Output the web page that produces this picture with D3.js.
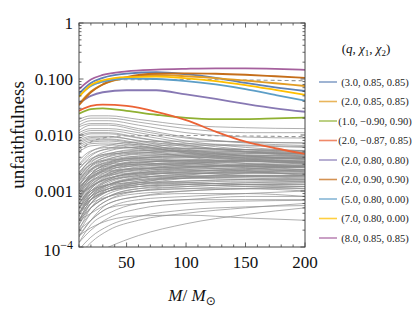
<!DOCTYPE html>
<html>
<head>
<meta charset="utf-8">
<script src="https://cdn.jsdelivr.net/npm/d3@7"></script>
<style>
  html, body { margin: 0; padding: 0; background: #fff; }
  svg { display: block; font-family: "Liberation Serif", serif; }
</style>
</head>
<body>
<div id="chart"></div>
<script>
const grayMasses = [10, 20, 35, 60, 100, 150, 200];

// gray curves that peak early and then fall
const grayUpper = [
  [0.019, 0.022, 0.022, 0.019, 0.015, 0.0135, 0.013],
  [0.017, 0.020, 0.020, 0.017, 0.013, 0.011, 0.011],
  [0.015, 0.018, 0.018, 0.015, 0.011, 0.0092, 0.0088],
  [0.014, 0.016, 0.016, 0.013, 0.0092, 0.0072, 0.0065],
  [0.012, 0.015, 0.015, 0.012, 0.0088, 0.0075, 0.0072],
  [0.011, 0.013, 0.013, 0.011, 0.0078, 0.0060, 0.0052],
  [0.010, 0.012, 0.012, 0.010, 0.0072, 0.0055, 0.0048],
  [0.0095, 0.011, 0.011, 0.009, 0.0066, 0.0050, 0.0042],
  [0.0085, 0.0105, 0.0105, 0.0088, 0.0065, 0.0052, 0.0046],
  [0.008, 0.0095, 0.0095, 0.0078, 0.0056, 0.0043, 0.0037],
  [0.0075, 0.009, 0.0092, 0.0080, 0.0062, 0.0050, 0.0045],
  [0.007, 0.0085, 0.0085, 0.0072, 0.0050, 0.0038, 0.0032],
  [0.0065, 0.008, 0.0082, 0.0070, 0.0053, 0.0042, 0.0037],
  [0.006, 0.0075, 0.0078, 0.0066, 0.0047, 0.0036, 0.0031],
  [0.0055, 0.007, 0.0072, 0.0063, 0.0048, 0.0039, 0.0034],
  [0.005, 0.0064, 0.0067, 0.0057, 0.0041, 0.0031, 0.0027]
];

// the dense band: rise up to ~60 Msun, then roughly flat
const grayMiddle = [
  [0.0030, 0.0050, 0.0065, 0.0075, 0.0078, 0.0075, 0.0072],
  [0.0025, 0.0042, 0.0058, 0.0068, 0.0070, 0.0066, 0.0062],
  [0.0020, 0.0036, 0.0052, 0.0062, 0.0066, 0.0064, 0.0060],
  [0.0018, 0.0032, 0.0046, 0.0056, 0.0058, 0.0055, 0.0050],
  [0.0015, 0.0028, 0.0042, 0.0052, 0.0056, 0.0055, 0.0053],
  [0.0022, 0.0034, 0.0044, 0.0050, 0.0050, 0.0047, 0.0044],
  [0.0012, 0.0024, 0.0037, 0.0047, 0.0052, 0.0051, 0.0049],
  [0.0017, 0.0028, 0.0038, 0.0045, 0.0046, 0.0044, 0.0041],
  [0.0010, 0.0020, 0.0032, 0.0042, 0.0046, 0.0047, 0.0046],
  [0.0014, 0.0024, 0.0034, 0.0040, 0.0042, 0.0040, 0.0038],
  [0.0009, 0.0018, 0.0029, 0.0038, 0.0043, 0.0044, 0.0042],
  [0.0016, 0.0025, 0.0032, 0.0036, 0.0036, 0.0034, 0.0032],
  [0.0008, 0.0016, 0.0026, 0.0035, 0.0039, 0.0040, 0.0040],
  [0.0011, 0.0019, 0.0027, 0.0033, 0.0035, 0.0035, 0.0034],
  [0.0007, 0.0014, 0.0023, 0.0031, 0.0036, 0.0038, 0.0038],
  [0.0013, 0.0020, 0.0026, 0.0030, 0.0030, 0.0028, 0.0026],
  [0.0006, 0.0012, 0.0021, 0.0029, 0.0033, 0.0034, 0.0034],
  [0.0010, 0.0017, 0.0024, 0.0029, 0.0031, 0.0030, 0.0029],
  [0.0005, 0.0011, 0.0019, 0.0027, 0.0031, 0.0033, 0.0033],
  [0.0009, 0.0015, 0.0021, 0.0026, 0.0028, 0.0028, 0.0027],
  [0.0012, 0.0018, 0.0023, 0.0025, 0.0024, 0.0022, 0.0020],
  [0.0006, 0.0011, 0.0018, 0.0024, 0.0027, 0.0028, 0.0028],
  [0.0008, 0.0013, 0.0019, 0.0023, 0.0025, 0.0025, 0.0024],
  [0.0004, 0.0009, 0.0016, 0.0022, 0.0026, 0.0027, 0.0027],
  [0.0007, 0.0012, 0.0017, 0.0021, 0.0023, 0.0023, 0.0022],
  [0.0010, 0.0015, 0.0019, 0.0021, 0.0021, 0.0019, 0.0018],
  [0.0005, 0.0009, 0.0015, 0.0020, 0.0023, 0.0024, 0.0024],
  [0.0006, 0.0010, 0.0015, 0.0019, 0.0021, 0.0021, 0.0020],
  [0.00035, 0.0008, 0.0014, 0.0019, 0.0022, 0.0023, 0.0023],
  [0.0008, 0.0012, 0.0016, 0.0018, 0.0018, 0.0017, 0.0016],
  [0.0005, 0.0009, 0.0013, 0.0017, 0.0019, 0.0019, 0.0019],
  [0.0003, 0.0007, 0.0012, 0.0017, 0.0020, 0.0021, 0.0021],
  [0.0006, 0.0010, 0.0013, 0.0016, 0.0017, 0.0016, 0.0015],
  [0.0004, 0.0008, 0.0012, 0.0015, 0.0017, 0.0018, 0.0018],
  [0.00025, 0.0006, 0.0011, 0.0015, 0.0018, 0.0019, 0.0019],
  [0.0007, 0.0010, 0.0013, 0.0014, 0.0014, 0.0013, 0.0012],
  [0.0004, 0.0007, 0.0011, 0.0014, 0.0015, 0.0016, 0.0016],
  [0.0003, 0.0006, 0.0010, 0.0013, 0.0015, 0.0016, 0.0017],
  [0.0005, 0.0008, 0.0011, 0.0013, 0.0014, 0.0013, 0.0013],
  [0.0002, 0.0005, 0.0009, 0.0012, 0.0014, 0.0015, 0.0015],
  [0.0004, 0.0007, 0.0010, 0.0012, 0.0013, 0.0012, 0.0011],
  [0.0003, 0.0005, 0.0008, 0.0011, 0.0012, 0.0013, 0.0013],
  [0.00018, 0.0004, 0.0007, 0.0010, 0.0012, 0.0013, 0.0014],
  [0.0003, 0.0005, 0.0008, 0.0010, 0.0011, 0.0011, 0.0010],
  [0.00022, 0.0004, 0.0007, 0.0009, 0.0010, 0.0011, 0.0011],
  [0.00015, 0.0003, 0.0006, 0.0008, 0.0010, 0.0011, 0.0012],
  [0.0003, 0.0004, 0.0006, 0.0008, 0.0009, 0.0009, 0.0008],
  [0.00016, 0.0003, 0.0005, 0.0007, 0.0008, 0.0009, 0.0010],
  [0.00012, 0.00025, 0.0004, 0.0006, 0.0007, 0.0008, 0.0008],
  [0.0002, 0.0003, 0.0005, 0.0006, 0.0007, 0.0007, 0.0007],
  [0.0008, 0.0014, 0.0020, 0.0024, 0.0030, 0.0036, 0.0040],
  [0.0005, 0.0008, 0.0011, 0.0014, 0.0019, 0.0024, 0.0028],
  [0.0020, 0.0030, 0.0036, 0.0038, 0.0034, 0.0028, 0.0024],
  [0.0015, 0.0024, 0.0030, 0.0032, 0.0028, 0.0023, 0.0019],
  [0.0011, 0.0020, 0.0030, 0.0036, 0.0032, 0.0026, 0.0022],
  [0.0006, 0.0011, 0.0017, 0.0021, 0.0026, 0.0030, 0.0033],
  [0.0025, 0.0038, 0.0046, 0.0048, 0.0042, 0.0035, 0.0030],
  [0.0004, 0.0007, 0.0010, 0.0013, 0.0017, 0.0021, 0.0024],
  [0.0013, 0.0022, 0.0028, 0.0030, 0.0032, 0.0034, 0.0036],
  [0.0035, 0.0052, 0.0060, 0.0058, 0.0050, 0.0042, 0.0038],
  [0.0018, 0.0030, 0.0041, 0.0048, 0.0050, 0.0049, 0.0047],
  [0.0013, 0.0023, 0.0033, 0.0039, 0.0041, 0.0041, 0.0040],
  [0.0009, 0.0017, 0.0026, 0.0032, 0.0035, 0.0036, 0.0036],
  [0.0011, 0.0018, 0.0025, 0.0028, 0.0029, 0.0028, 0.0027],
  [0.0007, 0.0013, 0.0020, 0.0025, 0.0027, 0.0028, 0.0029],
  [0.0005, 0.0010, 0.0016, 0.0021, 0.0024, 0.0026, 0.0026],
  [0.0008, 0.0012, 0.0017, 0.0020, 0.0021, 0.0021, 0.0021],
  [0.0004, 0.0008, 0.0013, 0.0017, 0.0020, 0.0022, 0.0023],
  [0.0006, 0.0009, 0.0013, 0.0016, 0.0018, 0.0018, 0.0017],
  [0.0003, 0.0006, 0.0010, 0.0014, 0.0017, 0.0018, 0.0019],
  [0.0005, 0.0007, 0.0010, 0.0012, 0.0013, 0.0014, 0.0014],
  [0.00025, 0.0005, 0.0008, 0.0011, 0.0013, 0.0014, 0.0015],
  [0.0004, 0.0006, 0.0008, 0.0010, 0.0011, 0.0012, 0.0012],
  [0.0028, 0.0045, 0.0056, 0.0060, 0.0058, 0.0055, 0.0052],
  [0.0021, 0.0036, 0.0047, 0.0053, 0.0053, 0.0050, 0.0046],
  [0.0016, 0.0027, 0.0036, 0.0042, 0.0044, 0.0043, 0.0042],
  [0.0010, 0.0020, 0.0031, 0.0039, 0.0040, 0.0037, 0.0033],
  [0.0007, 0.0015, 0.0025, 0.0033, 0.0034, 0.0031, 0.0028],
  [0.0012, 0.0017, 0.0022, 0.0025, 0.0027, 0.0029, 0.0031],
  [0.0003, 0.0007, 0.0013, 0.0018, 0.0022, 0.0025, 0.0027]
];

// the few curves near the bottom of the panel
const grayLower = [
  [0.00016, 0.00022, 0.0003, 0.00036, 0.00037, 0.00033, 0.0003],
  [0.00005, 0.00007, 0.0001, 0.00016, 0.00026, 0.00038, 0.0005],
  [0.00009, 0.00015, 0.00024, 0.00035, 0.00046, 0.00052, 0.00055],
  [0.00012, 0.0002, 0.00033, 0.00048, 0.0006, 0.00066, 0.00068],
  [0.00007, 0.00012, 0.0002, 0.0003, 0.0004, 0.0005, 0.0006]
];

// dashed gray reference curves
const dashedMasses = [10, 20, 30, 50, 100, 150, 200];
const dashedHigh = [0.05, 0.075, 0.088, 0.097, 0.098, 0.096, 0.093];
const dashedLow = [0.005, 0.0075, 0.0088, 0.0097, 0.0098, 0.0096, 0.0093];

// highlighted configurations (q, chi1, chi2)
const colorMasses = [10, 20, 30, 50, 75, 100, 125, 150, 175, 200];
const caseLabels = [
  "(3.0, 0.85, 0.85)", "(2.0, 0.85, 0.85)", "(1.0, \u22120.90, 0.90)",
  "(2.0, \u22120.87, 0.85)", "(2.0, 0.80, 0.80)", "(2.0, 0.90, 0.90)",
  "(5.0, 0.80, 0.00)", "(7.0, 0.80, 0.00)", "(8.0, 0.85, 0.85)"
];
const caseColors = ["#5E81B5", "#E19C24", "#8FB032", "#EB6235", "#8778B3",
                    "#C56E1A", "#5D9EC7", "#FFBF00", "#A5609D"];
const q3_085_085 = [0.055, 0.085, 0.105, 0.125, 0.132, 0.122, 0.105, 0.085, 0.071, 0.061];
const q2_085_085 = [0.036, 0.060, 0.080, 0.105, 0.117, 0.112, 0.104, 0.094, 0.084, 0.075];
const q1_m090_090 = [0.024, 0.029, 0.030, 0.027, 0.023, 0.0202, 0.0192, 0.0192, 0.0198, 0.0205];
const q2_m087_085 = [0.027, 0.033, 0.035, 0.033, 0.026, 0.0185, 0.0115, 0.0076, 0.0058, 0.0046];
const q2_080_080 = [0.037, 0.050, 0.058, 0.063, 0.063, 0.053, 0.044, 0.036, 0.030, 0.026];
const q2_090_090 = [0.034, 0.058, 0.080, 0.108, 0.124, 0.126, 0.124, 0.119, 0.112, 0.105];
const q5_080_000 = [0.050, 0.075, 0.090, 0.102, 0.100, 0.092, 0.080, 0.066, 0.052, 0.041];
const q7_080_000 = [0.048, 0.078, 0.095, 0.108, 0.110, 0.103, 0.092, 0.078, 0.064, 0.052];
const q8_085_085 = [0.066, 0.098, 0.118, 0.137, 0.147, 0.152, 0.155, 0.155, 0.152, 0.146];
const caseValues = [q3_085_085, q2_085_085, q1_m090_090, q2_m087_085, q2_080_080,
                    q2_090_090, q5_080_000, q7_080_000, q8_085_085];

const yTickValues = [1e-4, 1e-3, 1e-2, 1e-1, 1];
const yTickText = ["10", "0.001", "0.010", "0.100", "1"];
const xTickValues = [50, 100, 150, 200];

const width = 415, height = 324;
const margin = {top: 23, right: 110, bottom: 77, left: 79};
const innerW = width - margin.left - margin.right;
const innerH = height - margin.top - margin.bottom;

const svg = d3.select('#chart').append('svg')
  .attr('width', width).attr('height', height);

const x = d3.scaleLinear().domain([10, 200]).range([0, innerW]);
const y = d3.scaleLog().domain([1e-4, 1]).range([innerH, 0]);

svg.append('defs').append('clipPath').attr('id', 'plot-clip')
  .append('rect').attr('width', innerW).attr('height', innerH);

const plot = svg.append('g').attr('transform', `translate(${margin.left},${margin.top})`);
const curves = plot.append('g').attr('clip-path', 'url(#plot-clip)');

const line = d3.line()
  .x(d => x(d[0]))
  .y(d => y(d[1]))
  .curve(d3.curveMonotoneX);

const zipWith = (ms, vs) => ms.map((m, i) => [m, vs[i]]);

// gray family
curves.append('g').selectAll('path')
  .data([...grayUpper, ...grayMiddle, ...grayLower])
  .join('path')
  .attr('d', vs => line(zipWith(grayMasses, vs)))
  .attr('fill', 'none')
  .attr('stroke', '#8c8c8c')
  .attr('stroke-width', 0.7);

curves.append('g').selectAll('path')
  .data([dashedHigh, dashedLow])
  .join('path')
  .attr('d', vs => line(zipWith(dashedMasses, vs)))
  .attr('fill', 'none')
  .attr('stroke', '#999')
  .attr('stroke-width', 1.1)
  .attr('stroke-dasharray', '4,3');

curves.append('g').selectAll('path')
  .data(caseValues)
  .join('path')
  .attr('d', vs => line(zipWith(colorMasses, vs)))
  .attr('fill', 'none')
  .attr('stroke', (d, i) => caseColors[i])
  .attr('stroke-width', 1.8);

// frame with Mathematica-like inward ticks on all sides
const frameColor = '#444';
plot.append('rect')
  .attr('width', innerW).attr('height', innerH)
  .attr('fill', 'none').attr('stroke', frameColor).attr('stroke-width', 1);

const xMinor = d3.range(10, 201, 10).filter(v => v % 50 !== 0);
const yMinor = [];
for (let e = -4; e < 0; e++) for (let k = 2; k <= 9; k++) yMinor.push(k * Math.pow(10, e));

const ticks = plot.append('g').attr('stroke', frameColor).attr('stroke-width', 0.8);
function xTick(v, len) {
  ticks.append('line').attr('x1', x(v)).attr('x2', x(v)).attr('y1', innerH).attr('y2', innerH - len);
  ticks.append('line').attr('x1', x(v)).attr('x2', x(v)).attr('y1', 0).attr('y2', len);
}
function yTick(v, len) {
  ticks.append('line').attr('x1', 0).attr('x2', len).attr('y1', y(v)).attr('y2', y(v));
  ticks.append('line').attr('x1', innerW).attr('x2', innerW - len).attr('y1', y(v)).attr('y2', y(v));
}
xMinor.forEach(v => xTick(v, 2.5));
xTickValues.forEach(v => xTick(v, 4.5));
yMinor.forEach(v => yTick(v, 2.5));
yTickValues.forEach(v => yTick(v, 4.5));

// tick labels
plot.append('g').selectAll('text')
  .data(xTickValues)
  .join('text')
  .attr('x', d => x(d))
  .attr('y', innerH + 21)
  .attr('text-anchor', 'middle')
  .attr('font-size', 17)
  .attr('fill', '#111')
  .text(d => d);

const yLab = plot.append('g').selectAll('text')
  .data(yTickValues)
  .join('text')
  .attr('x', -6)
  .attr('y', d => y(d))
  .attr('dy', '0.35em')
  .attr('text-anchor', 'end')
  .attr('font-size', 17)
  .attr('fill', '#111')
  .text((d, i) => yTickText[i]);
yLab.filter(d => d === 1e-4).append('tspan')
  .attr('font-size', 12).attr('dy', '-0.55em').text('\u22124');
yLab.filter(d => d === 1e-4).attr('dy', '0.5em');

// axis titles
svg.append('text')
  .attr('transform', `translate(24,${margin.top + innerH / 2}) rotate(-90)`)
  .attr('text-anchor', 'middle')
  .attr('font-size', 19)
  .attr('fill', '#111')
  .text('unfaithfulness');

const xt = svg.append('text')
  .attr('x', margin.left + innerW / 2)
  .attr('y', 301)
  .attr('text-anchor', 'middle')
  .attr('font-size', 17)
  .attr('fill', '#111');
xt.append('tspan').attr('font-style', 'italic').text('M');
xt.append('tspan').text('/ ');
xt.append('tspan').attr('font-style', 'italic').text('M');
xt.append('tspan').attr('font-size', 12).attr('dy', 4).attr('font-family', '"DejaVu Sans", sans-serif').text('\u2299');

// legend
const legend = svg.append('g');
const lt = legend.append('text')
  .attr('x', 366).attr('y', 53)
  .attr('text-anchor', 'middle')
  .attr('font-size', 13)
  .attr('fill', '#111');
lt.append('tspan').text('(');
lt.append('tspan').attr('font-style', 'italic').text('q');
lt.append('tspan').text(', ');
lt.append('tspan').attr('font-style', 'italic').text('\u03c7');
lt.append('tspan').attr('font-size', 9).attr('dy', 3).text('1');
lt.append('tspan').attr('dy', -3).text(', ');
lt.append('tspan').attr('font-style', 'italic').text('\u03c7');
lt.append('tspan').attr('font-size', 9).attr('dy', 3).text('2');
lt.append('tspan').attr('dy', -3).text(')');

const rowY = d3.scalePoint().domain(d3.range(caseLabels.length)).range([82, 238]);
const rows = legend.selectAll('g.row')
  .data(caseLabels)
  .join('g')
  .attr('class', 'row')
  .attr('transform', (d, i) => `translate(0,${rowY(i)})`);
rows.append('line')
  .attr('x1', 319).attr('x2', 337)
  .attr('stroke', (d, i) => caseColors[i])
  .attr('stroke-opacity', 0.75)
  .attr('stroke-width', 1.6);
rows.append('text')
  .attr('x', 375).attr('dy', '0.35em')
  .attr('text-anchor', 'middle')
  .attr('font-size', 10.5)
  .attr('fill', '#222')
  .text(d => d);
</script>
</body>
</html>
